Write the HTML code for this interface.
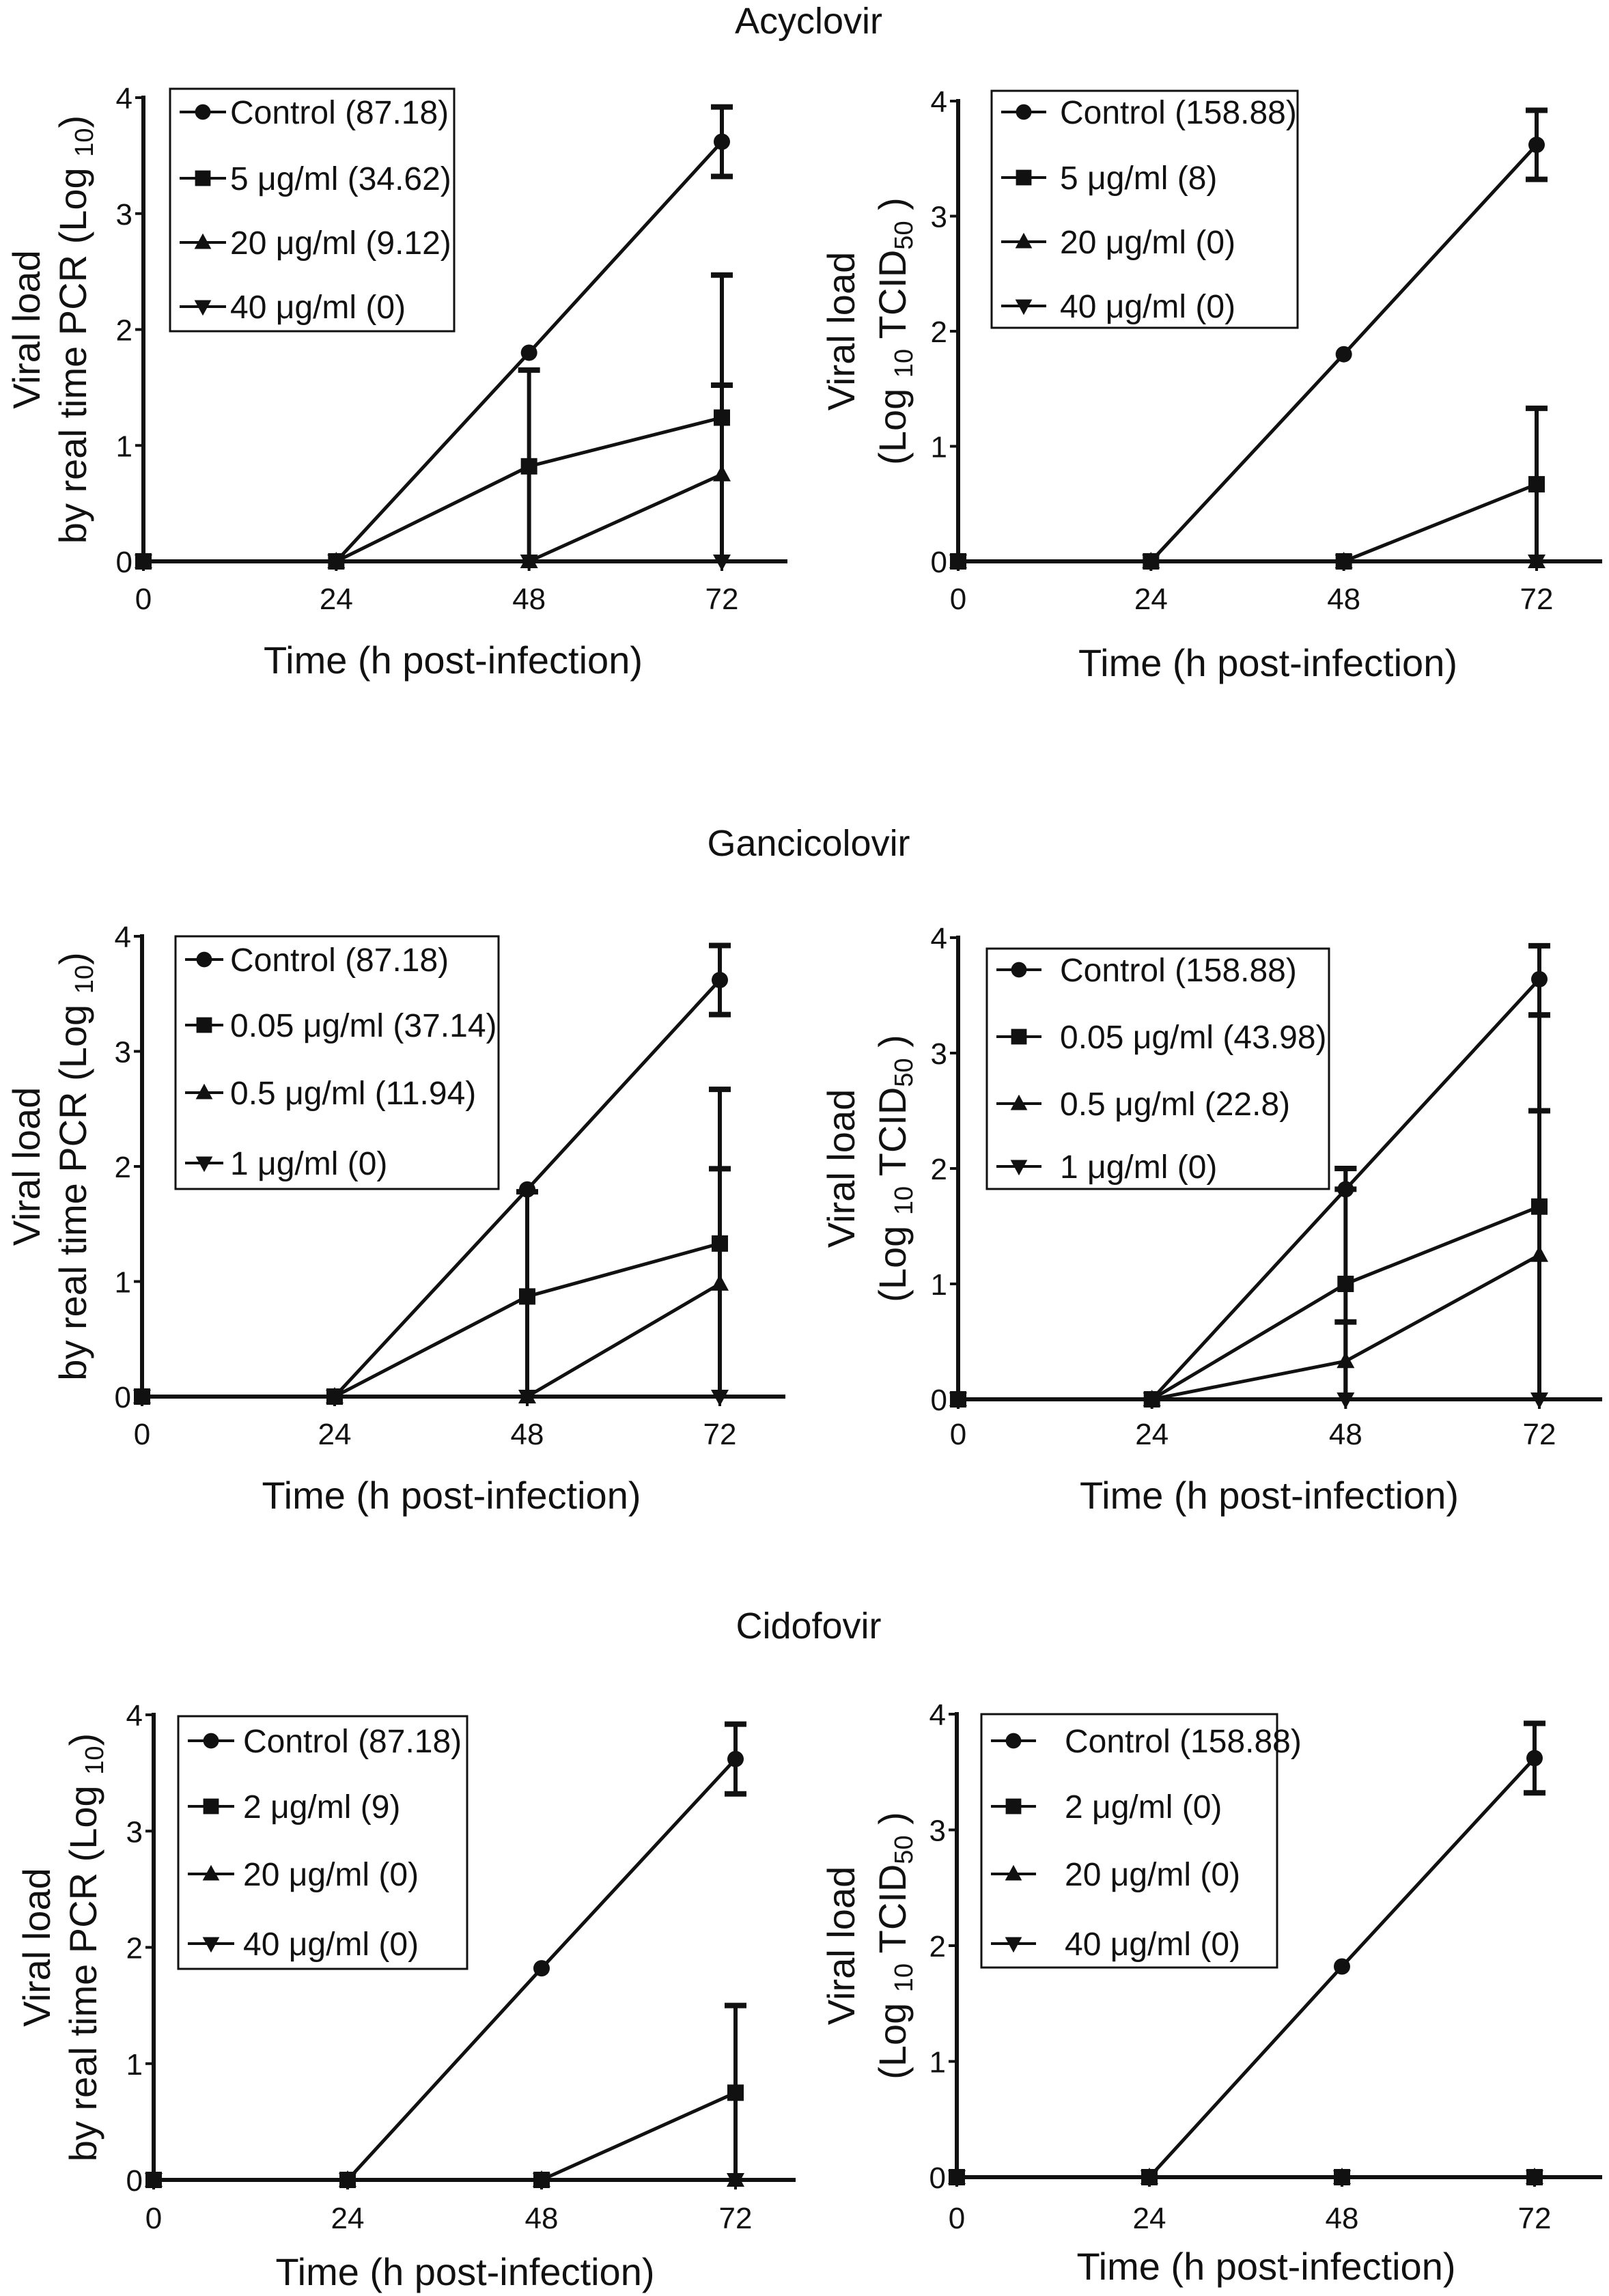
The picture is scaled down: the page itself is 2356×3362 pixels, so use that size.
<!DOCTYPE html>
<html><head><meta charset="utf-8">
<style>
html,body{margin:0;padding:0;background:#fff;}
svg{display:block;font-family:"Liberation Sans",Arial,sans-serif;}
</style></head>
<body>
<svg id="fig" width="2356" height="3362" viewBox="0 0 2356 3362" xmlns="http://www.w3.org/2000/svg"></svg>
<script>
// ---------- data ----------
const timePoints = [0, 24, 48, 72];
const xTickLabels = ["0", "24", "48", "72"];
const yTickLabels = ["0", "1", "2", "3", "4"];
const yTickValues = [0, 1, 2, 3, 4];

// Acyclovir PCR
const acyPcrControl = [0, 0, 1.80, 3.62];
const acyPcrLow = [0, 0, 0.82, 1.24];
const acyPcrMid = [0, 0, 0, 0.75];
const acyPcrHigh = [0, 0, 0, 0];
const acyPcrControlErr = [null, null, null, [3.32, 3.92]];
const acyPcrLowErr = [null, null, [0, 1.65], [0, 2.47]];
const acyPcrMidErr = [null, null, null, [0, 1.52]];
// Acyclovir TCID50
const acyTcidControl = [0, 0, 1.80, 3.62];
const acyTcidLow = [0, 0, 0, 0.67];
const acyTcidMid = [0, 0, 0, 0];
const acyTcidHigh = [0, 0, 0, 0];
const acyTcidControlErr = [null, null, null, [3.32, 3.92]];
const acyTcidLowErr = [null, null, null, [0, 1.33]];
// Ganciclovir PCR
const ganPcrControl = [0, 0, 1.80, 3.62];
const ganPcrLow = [0, 0, 0.87, 1.33];
const ganPcrMid = [0, 0, 0, 0.98];
const ganPcrHigh = [0, 0, 0, 0];
const ganPcrControlErr = [null, null, null, [3.32, 3.92]];
const ganPcrLowErr = [null, null, [0, 1.78], [0, 2.67]];
const ganPcrMidErr = [null, null, null, [0, 1.98]];
// Ganciclovir TCID50
const ganTcidControl = [0, 0, 1.82, 3.64];
const ganTcidLow = [0, 0, 1.00, 1.67];
const ganTcidMid = [0, 0, 0.33, 1.25];
const ganTcidHigh = [0, 0, 0, 0];
const ganTcidControlErr = [null, null, [1.82, 2.0], [3.33, 3.93]];
const ganTcidLowErr = [null, null, [0, 2.0], [0, 3.33]];
const ganTcidMidErr = [null, null, [0, 0.67], [0, 2.5]];
// Cidofovir PCR
const cidPcrControl = [0, 0, 1.82, 3.62];
const cidPcrLow = [0, 0, 0, 0.75];
const cidPcrMid = [0, 0, 0, 0];
const cidPcrHigh = [0, 0, 0, 0];
const cidPcrControlErr = [null, null, null, [3.32, 3.92]];
const cidPcrLowErr = [null, null, null, [0, 1.50]];
// Cidofovir TCID50
const cidTcidControl = [0, 0, 1.82, 3.62];
const cidTcidLow = [0, 0, 0, 0];
const cidTcidMid = [0, 0, 0, 0];
const cidTcidHigh = [0, 0, 0, 0];
const cidTcidControlErr = [null, null, null, [3.32, 3.92]];

const acyPcrLegend = ["Control (87.18)", "5 μg/ml (34.62)", "20 μg/ml (9.12)", "40 μg/ml (0)"];
const acyTcidLegend = ["Control (158.88)", "5 μg/ml (8)", "20 μg/ml (0)", "40 μg/ml (0)"];
const ganPcrLegend = ["Control (87.18)", "0.05 μg/ml (37.14)", "0.5 μg/ml (11.94)", "1 μg/ml (0)"];
const ganTcidLegend = ["Control (158.88)", "0.05 μg/ml (43.98)", "0.5 μg/ml (22.8)", "1 μg/ml (0)"];
const cidPcrLegend = ["Control (87.18)", "2 μg/ml (9)", "20 μg/ml (0)", "40 μg/ml (0)"];
const cidTcidLegend = ["Control (158.88)", "2 μg/ml (0)", "20 μg/ml (0)", "40 μg/ml (0)"];

const groupTitles = ["Acyclovir", "Gancicolovir", "Cidofovir"];

// ---------- drawing ----------
const NS = "http://www.w3.org/2000/svg";
const svg = document.getElementById("fig");
function mk(tag, attrs, parent) {
  const e = document.createElementNS(NS, tag);
  for (const k in attrs) e.setAttribute(k, attrs[k]);
  (parent || svg).appendChild(e);
  return e;
}

const markerKinds = ["circle", "square", "tri-up", "tri-down"];
function marker(kind, cx, cy, g, s) {
  let e;
  s = s || 1;
  if (kind === "circle") e = mk("circle", {cx: cx, cy: cy, r: 12 * s, fill: "#111"}, g);
  else if (kind === "square") e = mk("rect", {x: cx - 12 * s, y: cy - 12 * s, width: 24 * s, height: 24 * s, fill: "#111"}, g);
  else if (kind === "tri-up") e = mk("polygon", {points: `${cx},${cy - 14 * s} ${cx - 13 * s},${cy + 10 * s} ${cx + 13 * s},${cy + 10 * s}`, fill: "#111"}, g);
  else e = mk("polygon", {points: `${cx},${cy + 14 * s} ${cx - 13 * s},${cy - 10 * s} ${cx + 13 * s},${cy - 10 * s}`, fill: "#111"}, g);
  return e;
}

function panel(cfg) {
  const g = mk("g", {});
  
  
  const xs = t => cfg.x0 + (t / 72) * (cfg.x72 - cfg.x0);
  const ys = v => cfg.y0 - (v / 4) * (cfg.y0 - cfg.y4);

  const xa = mk("line", {x1: cfg.x0 - 3, y1: cfg.y0, x2: cfg.xEnd, y2: cfg.y0, stroke: "#111", "stroke-width": 6}, g);
  
  
  const ya = mk("line", {x1: cfg.x0, y1: cfg.y0 + 3, x2: cfg.x0, y2: cfg.y4 - 3, stroke: "#111", "stroke-width": 6}, g);
  
  

  yTickValues.forEach((v, i) => {
    mk("line", {x1: cfg.x0 - 12, y1: ys(v), x2: cfg.x0, y2: ys(v), stroke: "#111", "stroke-width": 4}, g);
    const t = mk("text", {x: cfg.x0 - 16, y: ys(v) + 16, "text-anchor": "end", "font-size": 44, fill: "#111"}, g);
    t.textContent = yTickLabels[i];
    
    
  });
  timePoints.forEach((tp, i) => {
    mk("line", {x1: xs(tp), y1: cfg.y0, x2: xs(tp), y2: cfg.y0 + 14, stroke: "#111", "stroke-width": 4}, g);
    const t = mk("text", {x: xs(tp), y: cfg.tickY + 16, "text-anchor": "middle", "font-size": 44, fill: "#111"}, g);
    t.textContent = xTickLabels[i];
    
    
  });

  const xt = mk("text", {x: (cfg.x0 + cfg.x72) / 2 + 30, y: cfg.xTitleY + 20, "text-anchor": "middle", "font-size": 56, fill: "#111"}, g);
  xt.textContent = "Time (h post-infection)";
  
  

  const cy = (cfg.y0 + cfg.y4) / 2;
  const yt1 = mk("text", {x: 0, y: 0, transform: `translate(${cfg.yl1 + 19},${cy}) rotate(-90)`, "text-anchor": "middle", "font-size": 56, fill: "#111"}, g);
  yt1.textContent = "Viral load";
  
  
  const yt2 = mk("text", {x: 0, y: 0, transform: `translate(${cfg.yl2 + 19},${cy}) rotate(-90)`, "text-anchor": "middle", "font-size": 56, fill: "#111"}, g);
  
  
  if (cfg.pcr) {
    yt2.innerHTML = 'by real time PCR (Log <tspan font-size="38" dy="10">10</tspan><tspan dy="-10">)</tspan>';
  } else {
    yt2.innerHTML = '(Log <tspan font-size="38" dy="10">10</tspan><tspan dy="-10"> TCID</tspan><tspan font-size="38" dy="10">50</tspan><tspan dy="-10"> )</tspan>';
  }

  cfg.series.forEach((vals, si) => {
    const pts = vals.map((v, i) => `${xs(timePoints[i])},${ys(v)}`).join(" ");
    const pl = mk("polyline", {points: pts, fill: "none", stroke: "#111", "stroke-width": 5, "stroke-linejoin": "round"}, g);
    
    
  });
  cfg.errs.forEach((errArr) => {
    if (!errArr) return;
    errArr.forEach((e, i) => {
      if (!e) return;
      const x = xs(timePoints[i]);
      const eb = mk("line", {x1: x, y1: ys(e[0]), x2: x, y2: ys(e[1]), stroke: "#111", "stroke-width": 6}, g);
      
      
      mk("line", {x1: x - 16, y1: ys(e[1]), x2: x + 16, y2: ys(e[1]), stroke: "#111", "stroke-width": 8}, g);
      if (e[0] > 0) mk("line", {x1: x - 16, y1: ys(e[0]), x2: x + 16, y2: ys(e[0]), stroke: "#111", "stroke-width": 8}, g);
    });
  });
  cfg.series.forEach((vals, si) => {
    vals.forEach((v, i) => {
      const m = marker(markerKinds[si], xs(timePoints[i]), ys(v), g);
      
      
    });
  });

  const L = cfg.legend;
  const lg = mk("g", {}, g);
  
  
  mk("rect", {x: L.x, y: L.y, width: L.w, height: L.h, fill: "#fff", stroke: "#111", "stroke-width": 3}, lg);
  cfg.labels.forEach((lab, i) => {
    const ry = L.rows[i];
    mk("line", {x1: L.x + 14, y1: ry, x2: L.x + L.lineW, y2: ry, stroke: "#111", "stroke-width": 4}, lg);
    marker(markerKinds[i], L.x + 14 + (L.lineW - 14) / 2, ry, lg, 0.95);
    const t = mk("text", {x: L.x + L.textOff, y: ry + 17, "font-size": 48, fill: "#111"}, lg);
    t.textContent = lab;
    
    
  });
}

[30, 1234, 2380].forEach((y, i) => {
  const t = mk("text", {x: 1184, y: y + 19, "text-anchor": "middle", "font-size": 54, fill: "#111"});
  t.textContent = groupTitles[i];
  
  
});

panel({name: "acyclovir-pcr-panel", pcr: true, x0: 210, x72: 1057, xEnd: 1153, y0: 822, y4: 143,
  tickY: 876, xTitleY: 966, yl1: 39, yl2: 107,
  series: [acyPcrControl, acyPcrLow, acyPcrMid, acyPcrHigh],
  errs: [acyPcrControlErr, acyPcrLowErr, acyPcrMidErr, null],
  labels: acyPcrLegend,
  legend: {x: 249, y: 130, w: 416, h: 355, rows: [164, 261, 355, 449], lineW: 82, textOff: 88}});
panel({name: "acyclovir-tcid-panel", pcr: false, x0: 1403, x72: 2250, xEnd: 2346, y0: 822, y4: 148,
  tickY: 876, xTitleY: 970, yl1: 1232, yl2: 1307,
  series: [acyTcidControl, acyTcidLow, acyTcidMid, acyTcidHigh],
  errs: [acyTcidControlErr, acyTcidLowErr, null, null],
  labels: acyTcidLegend,
  legend: {x: 1452, y: 133, w: 448, h: 347, rows: [164, 260, 354, 448], lineW: 80, textOff: 100}});
panel({name: "ganciclovir-pcr-panel", pcr: true, x0: 208, x72: 1054, xEnd: 1150, y0: 2045, y4: 1371,
  tickY: 2099, xTitleY: 2189, yl1: 39, yl2: 107,
  series: [ganPcrControl, ganPcrLow, ganPcrMid, ganPcrHigh],
  errs: [ganPcrControlErr, ganPcrLowErr, ganPcrMidErr, null],
  labels: ganPcrLegend,
  legend: {x: 257, y: 1371, w: 473, h: 370, rows: [1405, 1501, 1600, 1703], lineW: 70, textOff: 80}});
panel({name: "ganciclovir-tcid-panel", pcr: false, x0: 1403, x72: 2254, xEnd: 2346, y0: 2049, y4: 1373,
  tickY: 2099, xTitleY: 2189, yl1: 1232, yl2: 1307,
  series: [ganTcidControl, ganTcidLow, ganTcidMid, ganTcidHigh],
  errs: [ganTcidControlErr, ganTcidLowErr, ganTcidMidErr, null],
  labels: ganTcidLegend,
  legend: {x: 1445, y: 1389, w: 501, h: 352, rows: [1420, 1518, 1616, 1708], lineW: 80, textOff: 107}});
panel({name: "cidofovir-pcr-panel", pcr: true, x0: 225, x72: 1077, xEnd: 1165, y0: 3192, y4: 2511,
  tickY: 3247, xTitleY: 3326, yl1: 54, yl2: 122,
  series: [cidPcrControl, cidPcrLow, cidPcrMid, cidPcrHigh],
  errs: [cidPcrControlErr, cidPcrLowErr, null, null],
  labels: cidPcrLegend,
  legend: {x: 261, y: 2513, w: 423, h: 370, rows: [2549, 2645, 2744, 2846], lineW: 82, textOff: 95}});
panel({name: "cidofovir-tcid-panel", pcr: false, x0: 1401, x72: 2247, xEnd: 2346, y0: 3188, y4: 2510,
  tickY: 3247, xTitleY: 3318, yl1: 1232, yl2: 1307,
  series: [cidTcidControl, cidTcidLow, cidTcidMid, cidTcidHigh],
  errs: [cidTcidControlErr, null, null, null],
  labels: cidTcidLegend,
  legend: {x: 1437, y: 2510, w: 433, h: 371, rows: [2549, 2645, 2744, 2846], lineW: 80, textOff: 122}});
</script>
</body></html>
